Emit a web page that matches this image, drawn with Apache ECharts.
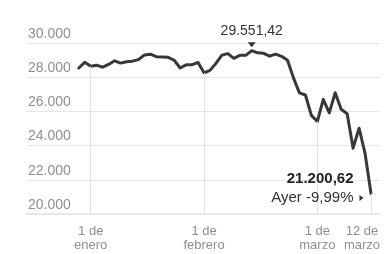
<!DOCTYPE html>
<html>
<head>
<meta charset="utf-8">
<script src="https://cdn.jsdelivr.net/npm/echarts@6/dist/echarts.min.js"></script>
<style>
  html, body { margin: 0; padding: 0; background: #fff; }
  #chart { width: 388px; height: 254px; }
</style>
</head>
<body>
<div id="chart"></div>
<script>
// cierres diarios (dias habiles)
var dates = [
  '2019-12-31',
  '2020-01-02','2020-01-03','2020-01-06','2020-01-07','2020-01-08','2020-01-09','2020-01-10',
  '2020-01-13','2020-01-14','2020-01-15','2020-01-16','2020-01-17',
  '2020-01-21','2020-01-22','2020-01-23','2020-01-24',
  '2020-01-27','2020-01-28','2020-01-29','2020-01-30','2020-01-31',
  '2020-02-03','2020-02-04','2020-02-05','2020-02-06','2020-02-07',
  '2020-02-10','2020-02-11','2020-02-12','2020-02-13','2020-02-14',
  '2020-02-18','2020-02-19','2020-02-20','2020-02-21',
  '2020-02-24','2020-02-25','2020-02-26','2020-02-27','2020-02-28',
  '2020-03-02','2020-03-03','2020-03-04','2020-03-05','2020-03-06',
  '2020-03-09','2020-03-10','2020-03-11','2020-03-12'
];
var values = [
  28538.44,
  28868.80, 28634.88, 28703.38, 28583.68, 28745.09, 28956.90, 28823.77,
  28907.05, 28939.67, 29030.22, 29297.64, 29348.10,
  29196.04, 29186.27, 29160.09, 28989.73,
  28535.80, 28722.85, 28734.45, 28859.44, 28256.03,
  28399.81, 28807.63, 29290.85, 29379.77, 29102.51,
  29276.82, 29276.34, 29551.42, 29423.31, 29398.08,
  29232.19, 29348.03, 29219.98, 28992.41,
  27960.80, 27081.36, 26957.59, 25766.64, 25409.36,
  26703.32, 25917.41, 27090.86, 26121.28, 25864.78,
  23851.02, 25018.16, 23553.22, 21200.62
];
var tickDates = ['2020-01-03', '2020-01-31', '2020-02-28', '2020-03-12'];
var tickLabels = ['1 de\nenero', '1 de\nfebrero', '1 de\nmarzo', '12 de\nmarzo'];
var yTicks = [20000, 22000, 24000, 26000, 28000, 30000];

var FONT = '"Liberation Sans", Arial, sans-serif';

function fmtNum(v, dec){
  var s = Math.abs(v).toFixed(dec).split('.');
  var ent = s[0].replace(/\B(?=(\d{3})+(?!\d))/g, '.');
  return (v < 0 ? '-' : '') + ent + (dec ? ',' + s[1] : '');
}

var iMax = values.indexOf(Math.max.apply(null, values));
var iLast = values.length - 1;
var cambio = (values[iLast] / values[iLast - 1] - 1) * 100;

var dropLines = tickDates.map(function(d){
  var v = values[dates.indexOf(d)];
  return [{coord: [d, v]}, {coord: [d, yTicks[0]]}];
});

var myChart = echarts.init(document.getElementById('chart'), null, {renderer: 'canvas'});

var option = {
  animation: false,
  textStyle: {fontFamily: FONT},
  grid: [
    {left: 27, right: 8, top: 43, bottom: 40, outerBoundsMode: 'none'},
    {left: 78.8, right: 17, top: 43, bottom: 40, outerBoundsMode: 'none'}
  ],
  xAxis: [
    {
      gridIndex: 0, type: 'value', min: 0, max: 1,
      axisLine: {show: true, onZero: false, lineStyle: {color: '#e8e8e8', width: 2}},
      axisTick: {show: false}, axisLabel: {show: false}, splitLine: {show: false}
    },
    {
      gridIndex: 1, type: 'category', data: dates, boundaryGap: false,
      axisLine: {show: false}, axisTick: {show: false}, splitLine: {show: false},
      axisLabel: {
        margin: 10,
        interval: function(idx, val){ return tickDates.indexOf(val) >= 0; },
        formatter: function(val){
          var k = tickDates.indexOf(val);
          var parts = tickLabels[k].split('\n');
          var st = (k == tickDates.length - 1) ? 'b' : 'a';
          return parts.map(function(p){ return '{' + st + '|' + p + '}'; }).join('\n');
        },
        rich: {
          a: {fontSize: 13, lineHeight: 14.5, color: '#8f8f8f', fontFamily: FONT},
          b: {fontSize: 13, lineHeight: 14.5, color: '#8f8f8f', fontFamily: FONT, padding: [0, 18, 0, 0]}
        }
      }
    }
  ],
  yAxis: [
    {
      gridIndex: 0, type: 'value', min: yTicks[0], max: yTicks[yTicks.length - 1], interval: 2000,
      axisLine: {show: false}, axisTick: {show: false},
      splitLine: {lineStyle: {color: '#e6e6e6', width: 1}},
      axisLabel: {
        inside: true, margin: 1, verticalAlign: 'bottom', padding: [0, 0, 2, 0],
        color: '#8f8f8f', fontSize: 14, fontFamily: FONT,
        formatter: function(v){ return fmtNum(v, 0); }
      }
    },
    {
      gridIndex: 1, type: 'value', min: yTicks[0], max: yTicks[yTicks.length - 1], show: false
    }
  ],
  series: [
    {
      // lineas verticales de las fechas marcadas
      type: 'line', xAxisIndex: 1, yAxisIndex: 1, z: 1, data: [],
      markLine: {
        silent: true, symbol: 'none', label: {show: false},
        lineStyle: {color: '#e2e2e2', width: 1, type: 'solid'},
        data: dropLines
      }
    },
    {
      type: 'line', xAxisIndex: 1, yAxisIndex: 1, z: 3,
      data: values, symbol: 'none',
      lineStyle: {color: '#383838', width: 3, join: 'round', cap: 'round'},
      markPoint: {
        silent: true,
        data: [
          {
            coord: [dates[iMax], values[iMax]],
            symbol: 'triangle', symbolRotate: 180, symbolSize: [8, 5], symbolOffset: [0, -6],
            itemStyle: {color: '#333'},
            label: {
              show: true, position: 'top', distance: 4,
              color: '#333', fontSize: 14, fontFamily: FONT,
              formatter: fmtNum(values[iMax], 2)
            }
          },
          {
            coord: [dates[iLast], values[iLast]],
            symbol: 'triangle', symbolRotate: -90, symbolSize: [6, 4], symbolOffset: [-9.5, 4.5],
            itemStyle: {color: '#333'},
            label: {
              show: true, position: 'left', distance: 6, offset: [0, -9.5], align: 'right',
              formatter: '{v|' + fmtNum(values[iLast], 2) + '}\n{c|Ayer ' + fmtNum(cambio, 2) + '%}',
              rich: {
                v: {fontSize: 15, fontWeight: 'bold', color: '#222', lineHeight: 19, align: 'right', fontFamily: FONT},
                c: {fontSize: 15, color: '#333', lineHeight: 19, align: 'right', fontFamily: FONT}
              }
            }
          }
        ]
      }
    }
  ]
};
myChart.setOption(option);
</script>
</body>
</html>
